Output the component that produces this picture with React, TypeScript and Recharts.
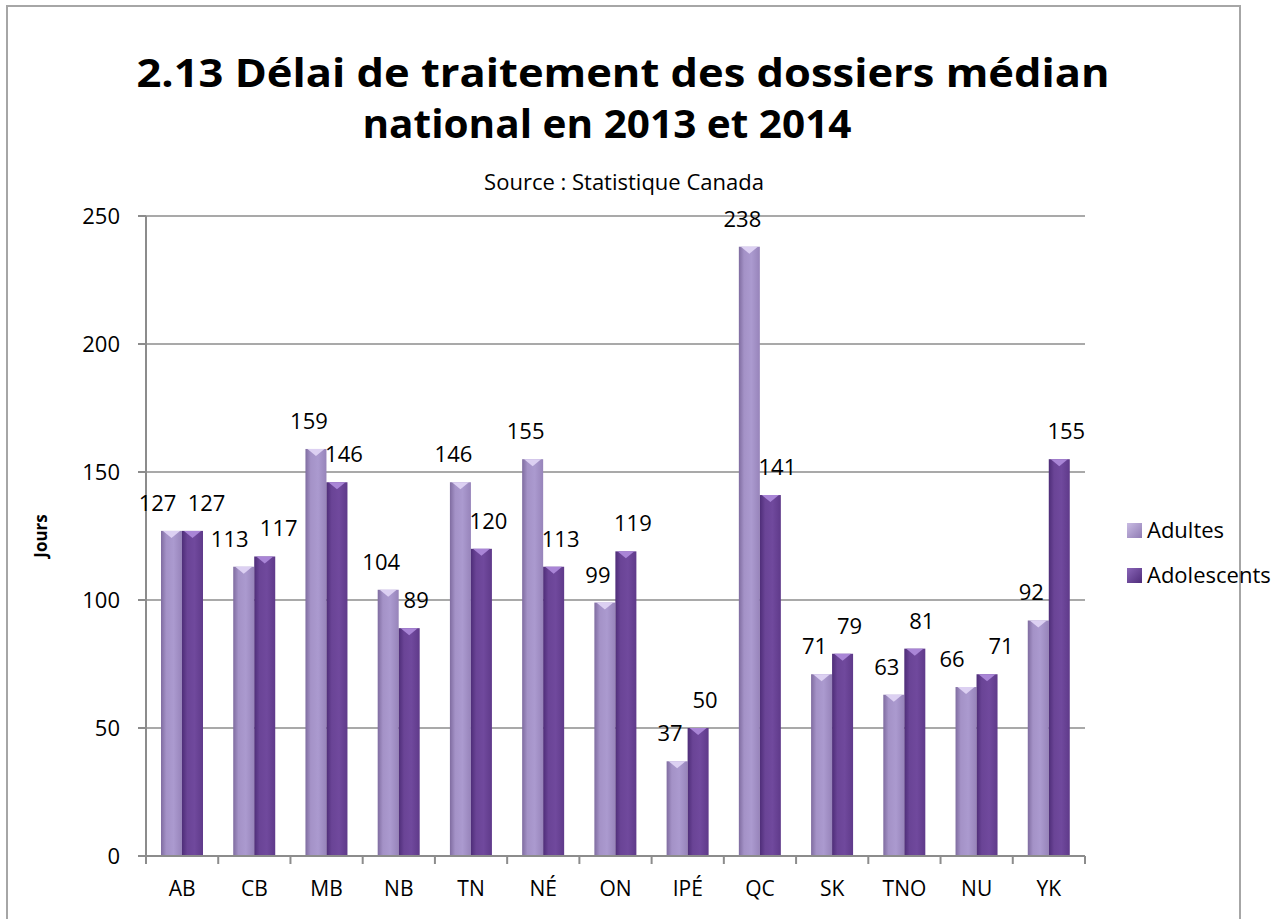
import { BarChart, Bar, XAxis, YAxis, CartesianGrid, LabelList } from "recharts";

const categories = ["AB", "CB", "MB", "NB", "TN", "NÉ", "ON", "IPÉ", "QC", "SK", "TNO", "NU", "YK"];
const adultes = [127, 113, 159, 104, 146, 155, 99, 37, 238, 71, 63, 66, 92];
const adolescents = [127, 117, 146, 89, 120, 113, 119, 50, 141, 79, 81, 71, 155];
const yTicks = [0, 50, 100, 150, 200, 250];
const seriesNames = ["Adultes", "Adolescents"];

const data = categories.map((name, i) => ({
  name,
  adultes: adultes[i],
  adolescents: adolescents[i],
}));

const FONT = "'Open Sans', sans-serif";
const PLOT_LEFT = 146;
const PLOT_RIGHT = 1085;
const STEP = (PLOT_RIGHT - PLOT_LEFT) / categories.length;

const BevelBar = (props: any) => {
  const { x, y, width, height, fill, bevel } = props;
  if (!height || height <= 0) return null;
  return (
    <g>
      <rect x={x} y={y} width={width} height={height} fill={fill} />
      <polygon
        points={`${x + 2},${y} ${x + width - 2},${y} ${x + width / 2},${y + 7}`}
        fill={bevel}
      />
    </g>
  );
};

// labels get pushed apart when the two values in a category are close
const makeLabel = (side: number) => (props: any) => {
  const { x, y, width, value } = props;
  const idx = Math.floor((x + width / 2 - PLOT_LEFT) / STEP);
  const close = Math.abs(adultes[idx] - adolescents[idx]) < 8;
  const dx = side * (close ? 14 : 7);
  return (
    <text
      x={x + width / 2 + dx}
      y={y - 20}
      textAnchor="middle"
      fontSize={22}
      fontFamily={FONT}
      fill="#000"
    >
      {value}
    </text>
  );
};

const XTick = (props: any) => {
  const { x, y, payload, index } = props;
  const left = x - STEP / 2;
  return (
    <g>
      <line x1={left} y1={y} x2={left} y2={y + 8} stroke="#8c8c8c" strokeWidth={2} />
      {index === categories.length - 1 && (
        <line x1={x + STEP / 2} y1={y} x2={x + STEP / 2} y2={y + 8} stroke="#8c8c8c" strokeWidth={2} />
      )}
      <text x={x} y={y + 40} textAnchor="middle" fontSize={21} fontFamily={FONT} fill="#000">
        {payload.value}
      </text>
    </g>
  );
};

export default function App() {
  return (
    <div style={{ position: "absolute", left: 0, top: 0, width: 1287, height: 919, overflow: "hidden", background: "#fff" }}>
      <div
        style={{
          position: "absolute",
          left: 6,
          top: 5,
          width: 1235,
          height: 1000,
          border: "2px solid #a6a6a6",
          boxSizing: "border-box",
        }}
      />
      <svg style={{ position: "absolute", left: 0, top: 0 }} width={1287} height={919}>
        <text x={623} y={87} textAnchor="middle" fontSize={40} fontWeight="bold" fontFamily={FONT} fill="#000"
          textLength={973} lengthAdjust="spacingAndGlyphs">
          2.13 Délai de traitement des dossiers médian
        </text>
        <text x={607} y={138} textAnchor="middle" fontSize={40} fontWeight="bold" fontFamily={FONT} fill="#000"
          textLength={489} lengthAdjust="spacingAndGlyphs">
          national en 2013 et 2014
        </text>
        <text x={624} y={190} textAnchor="middle" fontSize={22} fontFamily={FONT} fill="#000">
          Source : Statistique Canada
        </text>
        <text x={47} y={536} textAnchor="middle" fontSize={17} fontWeight="bold" fontFamily={FONT} fill="#000"
          transform="rotate(-90 47 536)">
          Jours
        </text>
        <defs>
          <linearGradient id="legA" x1="0" y1="0" x2="1" y2="1">
            <stop offset="0" stopColor="#c9bce3" />
            <stop offset="1" stopColor="#8f7bb3" />
          </linearGradient>
          <linearGradient id="legB" x1="0" y1="0" x2="1" y2="1">
            <stop offset="0" stopColor="#8a66b8" />
            <stop offset="1" stopColor="#4f2c7a" />
          </linearGradient>
        </defs>
        {seriesNames.map((n, i) => (
          <g key={n}>
            <rect x={1127} y={523 + i * 45} width={15} height={15} fill={i === 0 ? "url(#legA)" : "url(#legB)"} />
            <text x={1147} y={538 + i * 45} fontSize={22} fontFamily={FONT} fill="#000">
              {n}
            </text>
          </g>
        ))}
      </svg>
      <div style={{ position: "absolute", left: 0, top: 0 }}>
        <BarChart
          width={1287}
          height={919}
          data={data}
          margin={{ top: 216, right: 1287 - PLOT_RIGHT, left: PLOT_LEFT - 60, bottom: 33 }}
          barGap={0}
          barSize={21}
        >
          <defs>
            <linearGradient id="gradA" x1="0" y1="0" x2="1" y2="0">
              <stop offset="0" stopColor="#7f6ca0" />
              <stop offset="0.25" stopColor="#a492c7" />
              <stop offset="0.6" stopColor="#ab9acf" />
              <stop offset="1" stopColor="#9784ba" />
            </linearGradient>
            <linearGradient id="gradB" x1="0" y1="0" x2="1" y2="0">
              <stop offset="0" stopColor="#4e2d78" />
              <stop offset="0.25" stopColor="#6a4496" />
              <stop offset="0.6" stopColor="#70499d" />
              <stop offset="1" stopColor="#5f3a8a" />
            </linearGradient>
          </defs>
          <CartesianGrid vertical={false} stroke="#8c8c8c" strokeWidth={1.5} />
          <XAxis
            dataKey="name"
            height={30}
            tickSize={0}
            tickMargin={0}
            tickLine={false}
            axisLine={{ stroke: "#8c8c8c", strokeWidth: 2 }}
            tick={<XTick />}
            interval={0}
          />
          <YAxis
            width={60}
            domain={[0, 250]}
            ticks={yTicks}
            tickSize={8}
            tickMargin={18}
            axisLine={{ stroke: "#8c8c8c", strokeWidth: 2 }}
            tickLine={{ stroke: "#8c8c8c", strokeWidth: 2 }}
            tick={{ fontSize: 22, fontFamily: FONT, fill: "#000" }}
            interval={0}
          />
          <Bar
            dataKey="adultes"
            name={seriesNames[0]}
            fill="url(#gradA)"
            shape={(p: any) => <BevelBar {...p} fill="url(#gradA)" bevel="#dcd0f2" />}
            isAnimationActive={false}
          >
            <LabelList dataKey="adultes" content={makeLabel(-1)} />
          </Bar>
          <Bar
            dataKey="adolescents"
            name={seriesNames[1]}
            fill="url(#gradB)"
            shape={(p: any) => <BevelBar {...p} fill="url(#gradB)" bevel="#a985d6" />}
            isAnimationActive={false}
          >
            <LabelList dataKey="adolescents" content={makeLabel(1)} />
          </Bar>
        </BarChart>
      </div>
    </div>
  );
}
